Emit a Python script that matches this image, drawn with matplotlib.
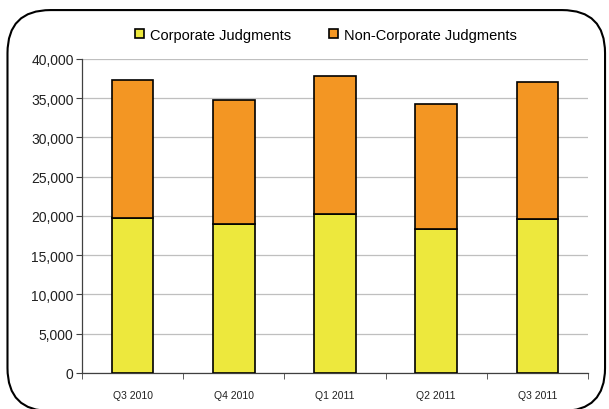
import matplotlib.pyplot as plt
from matplotlib.patches import FancyBboxPatch
import numpy as np

quarters = ["Q3 2010", "Q4 2010", "Q1 2011", "Q2 2011", "Q3 2011"]
corporate = [19750, 19000, 20250, 18300, 19550]
totals = [37350, 34800, 37850, 34250, 37050]
non_corporate = [t - c for t, c in zip(totals, corporate)]

plt.rcParams["font.family"] = ["Liberation Sans", "DejaVu Sans"]

fig = plt.figure(figsize=(6.09, 4.10), dpi=100)

ax = fig.add_axes([0.1346, 0.088, 0.831, 0.766])

x = np.arange(len(quarters))
width = 0.41

ax.bar(x, corporate, width, color="#EDE83D", edgecolor="black",
       linewidth=1.2, label="Corporate Judgments", zorder=3)
ax.bar(x, non_corporate, width, bottom=corporate, color="#F39623",
       edgecolor="black", linewidth=1.2, label="Non-Corporate Judgments",
       zorder=3)

ax.set_xlim(-0.5, len(quarters) - 0.5)
ax.set_ylim(0, 40000)
ax.set_yticks(range(0, 40001, 5000))
ax.set_yticklabels([f"{v:,}" for v in range(0, 40001, 5000)], fontsize=10,
                   color="#202020")
ax.yaxis.grid(True, color="#BFBFBF", linewidth=0.9, zorder=0)

ax.set_xticks(x)
ax.set_xticklabels(quarters, fontsize=7.5, color="#202020")
ax.tick_params(axis="x", length=0, pad=12)
ax.set_xticks(np.arange(-0.5, len(quarters)), minor=True)
ax.tick_params(axis="x", which="minor", length=4, color="#404040")
ax.tick_params(axis="y", length=4, color="#404040", pad=2)

for side in ["top", "right"]:
    ax.spines[side].set_visible(False)
for side in ["left", "bottom"]:
    ax.spines[side].set_color("#404040")
    ax.spines[side].set_linewidth(0.9)

ax.legend(loc="center", bbox_to_anchor=(0.482, 1.076), ncol=2,
          frameon=False, fontsize=10.5, handlelength=0.6, handleheight=0.6,
          columnspacing=2.6, handletextpad=0.4, borderpad=0)

# rounded outer frame
frame = FancyBboxPatch(
    (0.0123, -0.005), 0.9812, 0.978,
    boxstyle="round,pad=0,rounding_size=0.0706",
    transform=fig.transFigure,
    facecolor="none", edgecolor="black", linewidth=1.5,
    mutation_aspect=609 / 410, zorder=5
)
fig.patches.append(frame)

plt.savefig("out.png", dpi=100)
plt.close()
